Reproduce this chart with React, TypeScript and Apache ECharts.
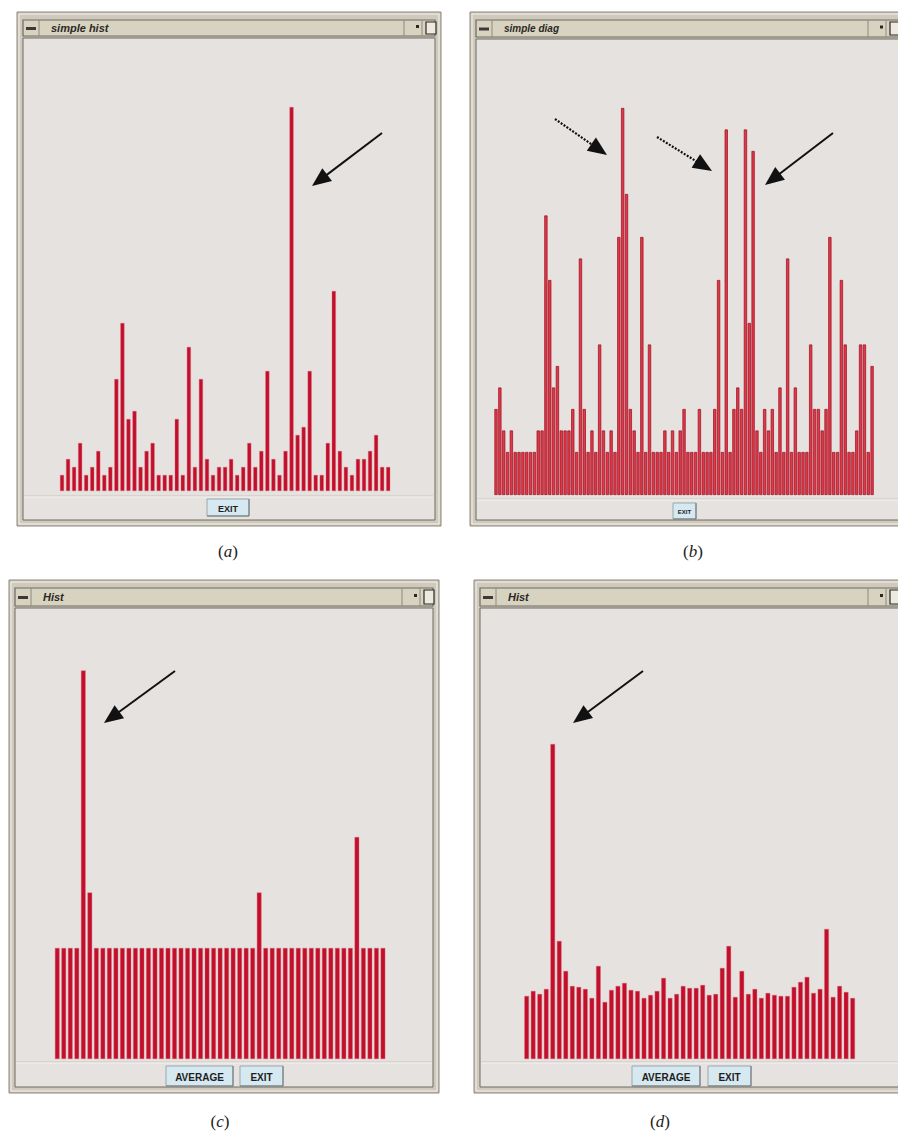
import React, { useEffect, useRef } from "react";
import * as echarts from "echarts";

// Panel (a) "simple hist": 55 bins
const histA = [2,4,3,6,2,3,5,2,3,14, 21,9,10,3,5,6,2,2,2,9, 2,18,3,14,4,2,3,3,4,2, 3,6,3,5,15,4,2,5,48,7, 8,15,2,2,6,25,5,3,2,4, 4,5,7,3,3];
// Panel (b) "simple diag": 99 bins
const histB = [4,5,3,2,3,2,2,2,2,2, 2,3,3,13,10,5,6,3,3,3, 4,2,11,4,2,3,2,7,3,2, 3,2,12,18,14,4,3,2,12,2, 7,2,2,2,3,2,3,2,3,4, 2,2,2,4,2,2,2,4,10,2, 17,2,4,5,4,17,8,16,3,2, 4,3,4,2,5,2,11,2,5,2, 2,2,7,4,4,3,4,12,2,2, 10,7,2,2,3,7,7,2,6];
// Panel (c) "Hist": 51 bins
const histC = [2,2,2,2,7,3,2,2,2,2, 2,2,2,2,2,2,2,2,2,2, 2,2,2,2,2,2,2,2,2,2, 2,3,2,2,2,2,2,2,2,2, 2,2,2,2,2,2,4,2,2,2, 2];
// Panel (d) "Hist" after AVERAGE: 51 bins
const histD = [63,68,65,70,315,118,88,73,72,70, 61,93,57,69,73,76,69,68,61,64, 68,81,61,65,73,71,71,74,64,65, 91,113,62,88,65,70,61,66,64,63, 63,72,77,82,66,70,130,62,73,67, 61];

const windowTitles = ["simple hist", "simple diag", "Hist", "Hist"];
const captions = ["a", "b", "c", "d"];

const BAR = "#c10f2c";
const FRAME = "#cfcabd";
const FRAME_DARK = "#6f6a60";
const CONTENT = "#e5e2df";
const TITLEBAR = "#d8d3c0";

function cats(arr: number[]) {
  return arr.map((_, i) => String(i + 1));
}

function win(x: number, y: number, w: number, h: number, tbH: number, title: string, titleSize: number, rightEdge: number) {
  const els: any[] = [];
  els.push({ type: "rect", z: 0, shape: { x, y, width: w, height: h }, style: { fill: FRAME, stroke: "#8b867b", lineWidth: 1 } });
  els.push({ type: "rect", z: 0, shape: { x: x + 2, y: y + 2, width: w - 4, height: h - 4 }, style: { fill: "none", stroke: "#f2f0ea", lineWidth: 1 } });
  els.push({ type: "rect", z: 0, shape: { x: x + 6, y: y + tbH + 10, width: w - 12, height: h - tbH - 16 }, style: { fill: CONTENT, stroke: FRAME_DARK, lineWidth: 1 } });
  // title bar
  els.push({ type: "rect", z: 0, shape: { x: x + 6, y: y + 8, width: w - 12, height: tbH }, style: { fill: TITLEBAR, stroke: FRAME_DARK, lineWidth: 1.2 } });
  // minimize button
  els.push({ type: "line", z: 0, shape: { x1: x + 22, y1: y + 8, x2: x + 22, y2: y + 8 + tbH }, style: { stroke: "#8f8a7e", lineWidth: 1 } });
  els.push({ type: "rect", z: 0, shape: { x: x + 9, y: y + 7 + tbH / 2, width: 10, height: 3 }, style: { fill: "#3c3a36" } });
  els.push({ type: "text", z: 1, style: { text: title, x: x + 34, y: y + 8 + tbH / 2, fill: "#2a2825", font: `italic bold ${titleSize}px "Liberation Sans", Arial, sans-serif`, verticalAlign: "middle" } });
  // right buttons
  const sq = rightEdge;
  els.push({ type: "line", z: 0, shape: { x1: sq - 36, y1: y + 8, x2: sq - 36, y2: y + 8 + tbH }, style: { stroke: "#8f8a7e", lineWidth: 1 } });
  els.push({ type: "rect", z: 0, shape: { x: sq - 24, y: y + 3 + tbH / 2 + 2, width: 3, height: 3 }, style: { fill: "#2a2825" } });
  els.push({ type: "line", z: 0, shape: { x1: sq - 18, y1: y + 8, x2: sq - 18, y2: y + 8 + tbH }, style: { stroke: "#8f8a7e", lineWidth: 1 } });
  els.push({ type: "rect", z: 0, shape: { x: sq - 14, y: y + 10, width: 10, height: tbH - 4 }, style: { fill: "#ece9e0", stroke: "#2a2825", lineWidth: 1.2 } });
  return els;
}

function button(x: number, y: number, w: number, h: number, label: string, size: number) {
  return [
    { type: "rect", z: 1, shape: { x, y, width: w, height: h }, style: { fill: "#d6e8f0", stroke: "#9aa7ad", lineWidth: 1 } },
    { type: "line", z: 1, shape: { x1: x, y1: y + h, x2: x + w, y2: y + h }, style: { stroke: "#6f7478", lineWidth: 1 } },
    { type: "line", z: 1, shape: { x1: x + w, y1: y, x2: x + w, y2: y + h }, style: { stroke: "#6f7478", lineWidth: 1 } },
    { type: "text", z: 2, style: { text: label, x: x + w / 2, y: y + h / 2 + 1, fill: "#1e1e1e", font: `bold ${size}px "Liberation Sans", Arial, sans-serif`, align: "center", verticalAlign: "middle" } },
  ];
}

function separator(x1: number, x2: number, y: number) {
  return [
    { type: "line", z: 1, shape: { x1, y1: y, x2, y2: y }, style: { stroke: "#c9c5bf", lineWidth: 1 } },
    { type: "line", z: 1, shape: { x1, y1: y + 1, x2, y2: y + 1 }, style: { stroke: "#f5f3f0", lineWidth: 1 } },
  ];
}

function arrow(x1: number, y1: number, x2: number, y2: number, dashed: boolean) {
  const dx = x2 - x1, dy = y2 - y1;
  const len = Math.sqrt(dx * dx + dy * dy);
  const ux = dx / len, uy = dy / len;
  const L = 19, W = 8;
  const bx = x2 - ux * L, by = y2 - uy * L;
  const nx = -uy, ny = ux;
  return [
    { type: "line", z: 20, shape: { x1, y1, x2: bx + ux * 3, y2: by + uy * 3 }, style: { stroke: "#111", lineWidth: dashed ? 2.2 : 2, lineDash: dashed ? [2, 1.5] : null } },
    { type: "polygon", z: 20, shape: { points: [[x2, y2], [bx + nx * W, by + ny * W], [bx - nx * W, by - ny * W]] }, style: { fill: "#111" } },
  ];
}

function caption(cx: number, cy: number, letter: string) {
  return {
    type: "text", z: 2,
    style: {
      text: `{p|(}{i|${letter}}{p|)}`, x: cx, y: cy, align: "center", verticalAlign: "middle",
      rich: {
        p: { fontFamily: '"Liberation Serif", "DejaVu Serif", serif', fontSize: 17, fill: "#222" },
        i: { fontFamily: '"Liberation Serif", "DejaVu Serif", serif', fontSize: 17, fontStyle: "italic", fill: "#222" },
      },
    },
  };
}

export default function App() {
  const ref = useRef<HTMLDivElement>(null);
  useEffect(() => {
    if (!ref.current) return;
    const chart = echarts.init(ref.current, null, { renderer: "svg" });
    const grids = [
      { left: 59, top: 91, width: 332.2, height: 400 },
      { left: 494.1, top: 86.5, width: 379.9, height: 408.5 },
      { left: 54, top: 615, width: 332.2, height: 444 },
      { left: 523.4, top: 729, width: 332.5, height: 330 },
    ];
    const datas = [histA, histB, histC, histD];
    const maxes = [50, 19, 8, 330];
    const widths = [4, 3.2, 4.6, 4.6];

    const graphics: any[] = [
      ...win(17, 12, 424, 514, 16, windowTitles[0], 11, 440),
      ...win(470, 12, 440, 514, 17, windowTitles[1], 10, 904),
      ...win(9, 580, 430, 513, 18, windowTitles[2], 11, 438),
      ...win(474, 580, 440, 513, 18, windowTitles[3], 11, 904),
      ...separator(24, 433, 496),
      ...separator(477, 898, 499),
      ...separator(16, 432, 1062),
      ...separator(481, 898, 1062),
      ...button(207, 499, 42, 17, "EXIT", 9),
      ...button(673, 503, 23, 16, "EXIT", 6),
      ...button(166, 1066, 67, 20, "AVERAGE", 10),
      ...button(240, 1066, 43, 20, "EXIT", 10),
      ...button(632, 1066, 68, 20, "AVERAGE", 10),
      ...button(708, 1066, 43, 20, "EXIT", 10),
      ...arrow(382, 133, 312, 186, false),
      ...arrow(555, 119, 607, 155, true),
      ...arrow(657, 137, 712, 171, true),
      ...arrow(833, 133, 765, 185, false),
      ...arrow(175, 671, 104, 723, false),
      ...arrow(643, 671, 573, 723, false),
      caption(228, 551, captions[0]),
      caption(693, 551, captions[1]),
      caption(220, 1121, captions[2]),
      caption(660, 1121, captions[3]),
    ];

    chart.setOption({
      animation: false,
      backgroundColor: "#ffffff",
      grid: grids.map((g) => ({ ...g, containLabel: false, show: false })),
      xAxis: datas.map((d, i) => ({
        type: "category", gridIndex: i, data: cats(d), show: false, boundaryGap: true,
      })),
      yAxis: datas.map((_, i) => ({
        type: "value", gridIndex: i, min: 0, max: maxes[i], show: false, splitLine: { show: false },
      })),
      series: datas.map((d, i) => ({
        type: "bar", xAxisIndex: i, yAxisIndex: i, data: d, barWidth: widths[i], z: 5,
        itemStyle: i === 1
          ? { color: "#dd3a4a", borderColor: "#9c0a1c", borderWidth: 0.7 }
          : { color: BAR, borderColor: "#e46a7a", borderWidth: 0.4 },
        emphasis: { disabled: true },
      })),
      graphic: { elements: graphics },
    });
    return () => chart.dispose();
  }, []);
  return <div ref={ref} style={{ position: "fixed", left: 0, top: 0, width: 898, height: 1135 }} />;
}
